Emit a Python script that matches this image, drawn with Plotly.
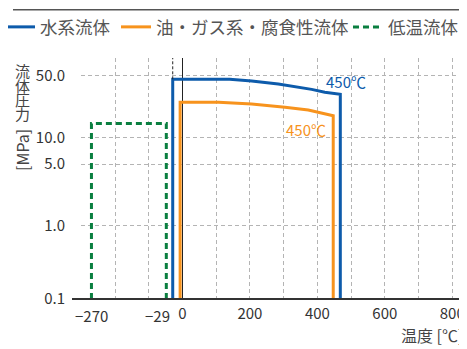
import math

import plotly.graph_objects as go

# temperature [°C] / pressure [MPa]
WATER_T = [-29, 140, 205, 284, 334, 383, 422, 468]
WATER_P = [45.5, 45.5, 43.5, 40.3, 37.5, 35.0, 32.4, 30.8]
OIL_T = [-7, 107, 205, 304, 373, 447]
OIL_P = [25.0, 25.0, 23.9, 21.9, 20.4, 17.6]
COLD_T = [-270, -48]
COLD_P = [14.4, 14.4]

P_FLOOR = 0.148  # bottom of the (broken) log axis, labelled "0.1"
P_TOP = 79.3

X_GRID = list(range(-300, 801, 100))
X_LABELS = {0: "0", 200: "200", 400: "400", 600: "600", 800: "800"}
Y_TICKS = [P_FLOOR, 1, 5, 10, 50]
Y_LABELS = ["0.1", "1.0", "5.0", "10.0", "50.0"]

NAMES = ["水系流体", "油・ガス系・腐食性流体", "低温流体"]
COLORS = ["#0d5bab", "#f7931d", "#0a7f40"]

FONT = "Noto Sans CJK JP"
TXT = "#444444"

# the page body adds an 8px offset, so the figure is drawn 8px smaller
W, H = 459, 341
PLOT_L, PLOT_T, PLOT_W, PLOT_H = 81, 58, 386, 241  # plot area in screen px


def px(x):
    return (x - PLOT_L) / PLOT_W


def py(y):
    return (PLOT_T + PLOT_H - y) / PLOT_H


def outline(ts, ps):
    # close the envelope down to the bottom of the axis
    return [ts[0]] + ts + [ts[-1]], [P_FLOOR] + ps + [P_FLOOR]


fig = go.Figure()

legend_ids = ["legend", "legend2", "legend3"]
for (ts, ps), name, color, dash, lg in zip(
    [(WATER_T, WATER_P), (OIL_T, OIL_P), (COLD_T, COLD_P)],
    NAMES, COLORS, ["solid", "solid", "6px,4px"], legend_ids,
):
    x, y = outline(ts, ps)
    fig.add_trace(go.Scatter(x=x, y=y, mode="lines", name=name, legend=lg,
                             line=dict(color=color, width=3, dash=dash)))

# dotted marker at -29 above the water envelope
fig.add_trace(go.Scatter(x=[WATER_T[0], WATER_T[0]], y=[WATER_P[0], P_TOP],
                         mode="lines", showlegend=False, hoverinfo="skip",
                         line=dict(color="#222", width=1, dash="3px,2px")))

# one legend per entry so each can sit where the original has it
legend_style = dict(orientation="h", xanchor="left", y=py(27), yanchor="middle",
                    font=dict(size=17.5, color="#555"), itemwidth=30,
                    bgcolor="rgba(0,0,0,0)")

fig.update_layout(
    width=W, height=H,
    margin=dict(l=PLOT_L - 8, r=0, t=PLOT_T - 8, b=H - (PLOT_T - 8) - PLOT_H,
                autoexpand=False),
    paper_bgcolor="white", plot_bgcolor="white",
    font=dict(family=FONT, size=15, color=TXT),
    showlegend=True,
    legend=dict(x=px(0), **legend_style),
    legend2=dict(x=px(116), **legend_style),
    legend3=dict(x=px(348), **legend_style),
    xaxis=dict(
        range=[-301, 843.7], tickmode="array", tickvals=X_GRID,
        ticktext=[X_LABELS.get(v, "") for v in X_GRID], tickangle=0,
        showgrid=True, gridcolor="#b4b4b4", griddash="4px,3px", gridwidth=1,
        zeroline=True, zerolinecolor="#222", zerolinewidth=1,
        showline=False, ticks="", ticklabelstandoff=4,
        tickfont=dict(size=15, color="#333"),
    ),
    yaxis=dict(
        type="log", range=[-0.8297, 1.8993],
        tickmode="array", tickvals=Y_TICKS, ticktext=Y_LABELS,
        showgrid=True, gridcolor="#b4b4b4", griddash="4px,3px", gridwidth=1,
        zeroline=False, showline=False, ticks="", ticklabelstandoff=15,
        tickfont=dict(size=15, color="#333"),
    ),
)

# x axis line, running a bit past the plot's left edge
fig.add_shape(type="line", xref="paper", yref="paper", x0=px(72), x1=1, y0=0, y1=0,
              line=dict(color="#333", width=2))
# separator line above the legend
fig.add_shape(type="line", xref="paper", yref="paper", x0=px(13), x1=px(463),
              y0=py(9.7), y1=py(9.7), line=dict(color="#555", width=1.5))

# -270 / -29 labels (the -29 one sits left of its tick to clear "0")
fig.add_annotation(x=-270, xref="x", y=0, yref="paper", yanchor="top", yshift=-4,
                   text="−270", showarrow=False, font=dict(size=15, color="#333"))
fig.add_annotation(x=-29, xref="x", y=0, yref="paper", xanchor="right", yanchor="top",
                   xshift=-1, yshift=-4, text="−29", showarrow=False,
                   font=dict(size=15, color="#333"))

# 450℃ labels (log axis: annotation y in log10 units)
fig.add_annotation(x=484, y=math.log10(43.5), text="450℃", showarrow=False,
                   font=dict(size=15, color=COLORS[0]))
fig.add_annotation(x=367, y=math.log10(12.4), text="450℃", showarrow=False,
                   font=dict(size=15, color=COLORS[1]))

# axis titles: upright kanji stacked, [MPa] turned
for i, ch in enumerate("流体圧力"):
    fig.add_annotation(x=px(22), xref="paper", xanchor="center",
                       y=py(70.5 + 14.5 * i), yref="paper", yanchor="middle",
                       text=ch, showarrow=False, font=dict(size=15, color=TXT))
fig.add_annotation(x=px(22), xref="paper", xanchor="center", y=py(150), yref="paper",
                   yanchor="middle", text="[MPa]", textangle=-90, showarrow=False,
                   font=dict(size=16, color=TXT))
fig.add_annotation(x=px(465), xref="paper", xanchor="right", y=py(349), yref="paper",
                   yanchor="bottom", text="温度 [℃]", showarrow=False,
                   font=dict(size=16, color=TXT))

fig.write_html("out.html")
